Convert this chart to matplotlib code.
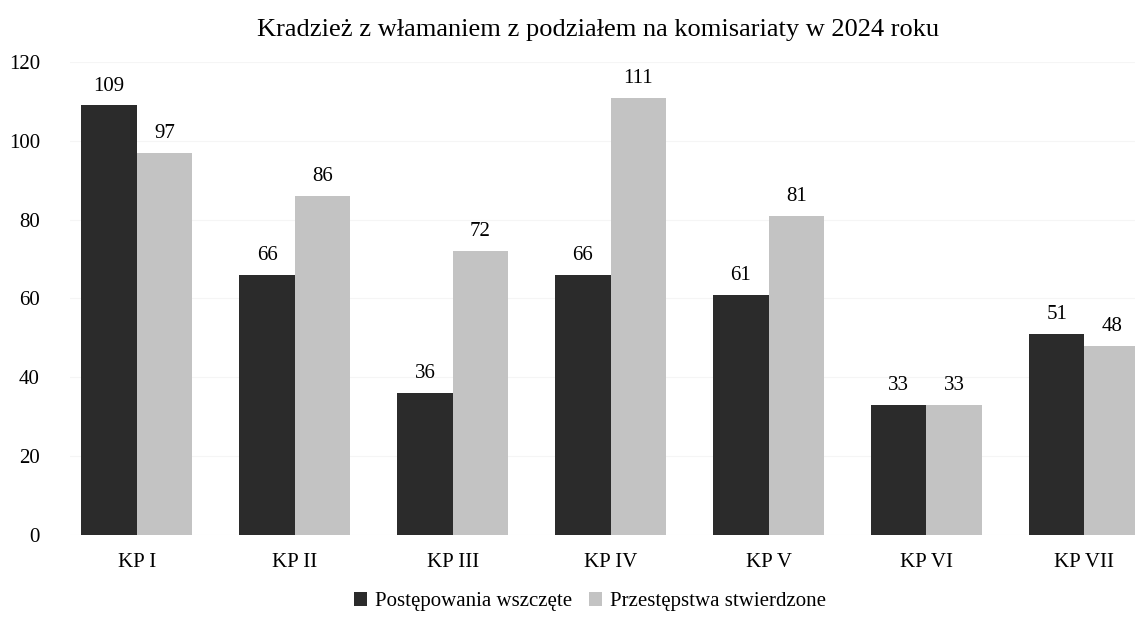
import numpy as np
import matplotlib
matplotlib.use("Agg")
import matplotlib.pyplot as plt

plt.rcParams['font.family'] = ['Liberation Serif', 'DejaVu Serif']

categories = ["KP I", "KP II", "KP III", "KP IV", "KP V", "KP VI", "KP VII"]
wszczete = [109, 66, 36, 66, 61, 33, 51]
stwierdzone = [97, 86, 72, 111, 81, 33, 48]
yticks = [0, 20, 40, 60, 80, 100, 120]

fig = plt.figure(figsize=(11.35, 6.27), dpi=100)
ax = fig.add_axes([0.062, 0.147, 0.938, 0.754])

x = np.arange(len(categories))
w = 0.35
b1 = ax.bar(x - w / 2, wszczete, w, color="#2b2b2b", label="Postępowania wszczęte")
b2 = ax.bar(x + w / 2, stwierdzone, w, color="#c3c3c3", label="Przestępstwa stwierdzone")
ax.bar_label(b1, padding=7, fontsize=15)
ax.bar_label(b2, padding=7, fontsize=15)

ax.set_xlim(-0.42, 6.32)
ax.set_ylim(0, 120)
ax.set_yticks(yticks)
ax.set_xticks(x)
ax.set_xticklabels(categories)
ax.tick_params(axis="both", length=0, labelsize=15)
ax.tick_params(axis="y", pad=22)
ax.tick_params(axis="x", pad=13)
ax.grid(axis="y", color="#f5f5f5", linewidth=0.8)
ax.set_axisbelow(True)
for s in ax.spines.values():
    s.set_visible(False)

fig.suptitle("Kradzież z włamaniem z podziałem na komisariaty w 2024 roku",
             x=0.527, y=0.97, fontsize=19)
fig.legend(loc="lower center", bbox_to_anchor=(0.52, -0.005), ncol=2, frameon=False,
           fontsize=15, handlelength=0.6, handleheight=0.6, handletextpad=0.4,
           columnspacing=0.8)

fig.savefig("out.png", dpi=100)
